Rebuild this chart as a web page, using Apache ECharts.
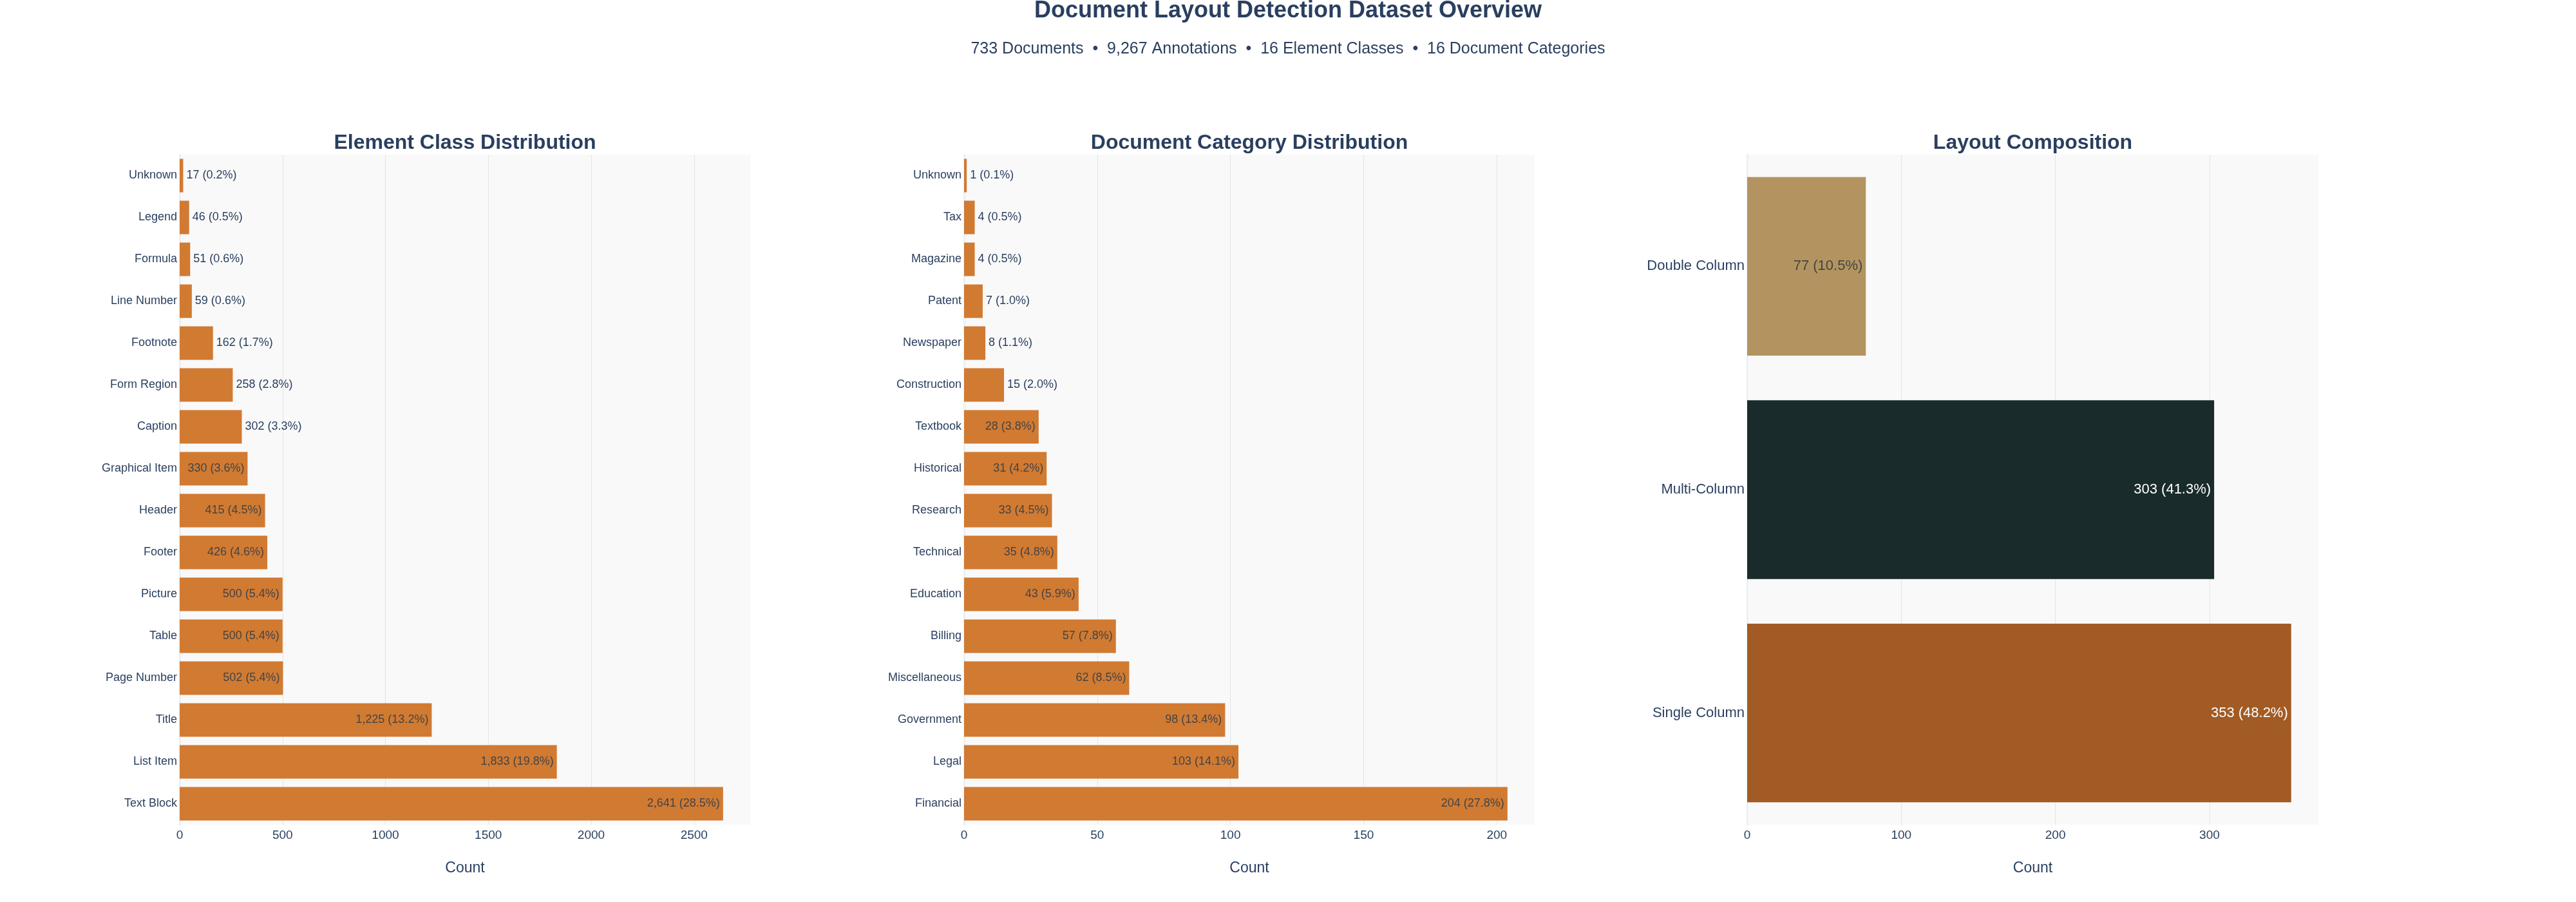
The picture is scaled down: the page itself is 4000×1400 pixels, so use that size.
<!DOCTYPE html>
<html>
<head>
<meta charset="utf-8">
<script src="https://cdn.jsdelivr.net/npm/echarts@6/dist/echarts.min.js"></script>
<style>
html, body { margin: 0; padding: 0; background: #fff; }
#main { width: 4000px; height: 1400px; }
</style>
</head>
<body>
<div id="main"></div>
<script>
// data, listed top to bottom as drawn
var elementClasses = ['Unknown', 'Legend', 'Formula', 'Line Number', 'Footnote', 'Form Region', 'Caption', 'Graphical Item',
  'Header', 'Footer', 'Picture', 'Table', 'Page Number', 'Title', 'List Item', 'Text Block'];
var elementCounts = [17, 46, 51, 59, 162, 258, 302, 330, 415, 426, 500, 500, 502, 1225, 1833, 2641];

var docCategories = ['Unknown', 'Tax', 'Magazine', 'Patent', 'Newspaper', 'Construction', 'Textbook', 'Historical',
  'Research', 'Technical', 'Education', 'Billing', 'Miscellaneous', 'Government', 'Legal', 'Financial'];
var docCounts = [1, 4, 4, 7, 8, 15, 28, 31, 33, 35, 43, 57, 62, 98, 103, 204];

var layoutTypes = ['Double Column', 'Multi-Column', 'Single Column'];
var layoutCounts = [77, 303, 353];

var tickSteps = [500, 50, 100];

var mainTitle = 'Document Layout Detection Dataset Overview';
var subTitle = '733 Documents  \u2022  9,267 Annotations  \u2022  16 Element Classes  \u2022  16 Document Categories';
var panelTitles = ['Element Class Distribution', 'Document Category Distribution', 'Layout Composition'];

// styles
var FONT = '"Liberation Sans", Arial, Helvetica, sans-serif';
var NAVY = '#2A3F5F';
var barColor = '#D17A32';
var layoutColors = ['#B39460', '#192B2A', '#A25B24'];
var grids = [
  { left: 279, width: 886, top: 240, height: 1040 },
  { left: 1497, width: 886, top: 240, height: 1040 },
  { left: 2713, width: 887, top: 240, height: 1040 }
];

var measureCtx = document.createElement('canvas').getContext('2d');
function textWidth(txt, size) {
  measureCtx.font = size + 'px ' + FONT;
  return measureCtx.measureText(txt).width;
}
function isLight(hex) {
  var r = parseInt(hex.substr(1, 2), 16), g = parseInt(hex.substr(3, 2), 16), b = parseInt(hex.substr(5, 2), 16);
  return (0.299 * r + 0.587 * g + 0.114 * b) / 255 > 0.5;
}

// build one bar series, label goes inside when it fits (like plotly "auto")
function makeSeries(idx, counts, colors, fontSize) {
  var total = counts.reduce(function (a, b) { return a + b; }, 0);
  var axisMax = Math.max.apply(null, counts) * 1.05;
  var texts = counts.map(function (v) {
    return v.toLocaleString('en-US') + ' (' + (v / total * 100).toFixed(1) + '%)';
  });
  var data = counts.map(function (v, i) {
    var c = colors ? colors[i] : barColor;
    var barPx = v / axisMax * grids[idx].width;
    var inside = barPx >= textWidth(texts[i], fontSize) + 12;
    return {
      value: v,
      itemStyle: { color: c },
      label: {
        position: inside ? 'insideRight' : 'right',
        distance: 5,
        color: inside ? (isLight(c) ? '#444444' : '#ffffff') : NAVY
      }
    };
  });
  return {
    type: 'bar',
    xAxisIndex: idx,
    yAxisIndex: idx,
    barCategoryGap: '20%',
    data: data,
    label: {
      show: true,
      fontSize: fontSize,
      fontFamily: FONT,
      formatter: function (p) { return texts[p.dataIndex]; }
    }
  };
}

function makeX(idx) {
  return {
    type: 'value',
    gridIndex: idx,
    min: 0,
    max: function (v) { return v.max * 1.05; },
    interval: tickSteps[idx],
    axisLine: { show: false },
    axisTick: { show: false },
    splitLine: { show: true, showMinLine: false, showMaxLine: false, lineStyle: { color: '#E4E4E4', width: 1 } },
    axisLabel: {
      color: NAVY, fontSize: 19, fontFamily: FONT, margin: 7, showMaxLabel: false,
      formatter: function (v) { return String(v); }
    },
    name: 'Count',
    nameLocation: 'middle',
    nameGap: 56,
    nameTextStyle: { color: NAVY, fontSize: 23, fontFamily: FONT }
  };
}

function makeY(idx, cats, fontSize) {
  return {
    type: 'category',
    gridIndex: idx,
    data: cats,
    inverse: true,
    axisTick: { show: false },
    axisLine: { show: true, lineStyle: { color: '#EBF0F8', width: 3 } },
    axisLabel: { color: NAVY, fontSize: fontSize, fontFamily: FONT, margin: 4 }
  };
}

var chart = echarts.init(document.getElementById('main'), null, { renderer: 'canvas' });

var titleEls = [
  { text: mainTitle, x: 2000, y: 17, size: 36, weight: 'bold' },
  { text: subTitle, x: 2000, y: 76, size: 25, weight: 'normal' }
];
panelTitles.forEach(function (t, i) {
  titleEls.push({ text: t, x: grids[i].left + grids[i].width / 2, y: 222, size: 32, weight: 'bold' });
});

var option = {
  backgroundColor: '#ffffff',
  animation: false,
  textStyle: { fontFamily: FONT },
  grid: grids.map(function (g) {
    return { left: g.left, top: g.top, width: g.width, height: g.height, show: true,
      backgroundColor: '#F9F9F9', borderWidth: 0 };
  }),
  xAxis: [makeX(0), makeX(1), makeX(2)],
  yAxis: [makeY(0, elementClasses, 18), makeY(1, docCategories, 18), makeY(2, layoutTypes, 22)],
  series: [
    makeSeries(0, elementCounts, null, 18),
    makeSeries(1, docCounts, null, 18),
    makeSeries(2, layoutCounts, layoutColors, 22)
  ],
  graphic: titleEls.map(function (t) {
    return {
      type: 'text',
      x: t.x,
      y: t.y,
      style: {
        text: t.text,
        fill: NAVY,
        fontSize: t.size,
        fontWeight: t.weight,
        fontFamily: FONT,
        align: 'center',
        verticalAlign: 'middle'
      }
    };
  })
};
chart.setOption(option);

window.addEventListener('resize', function () {
  chart.resize();
});
</script>
</body>
</html>
